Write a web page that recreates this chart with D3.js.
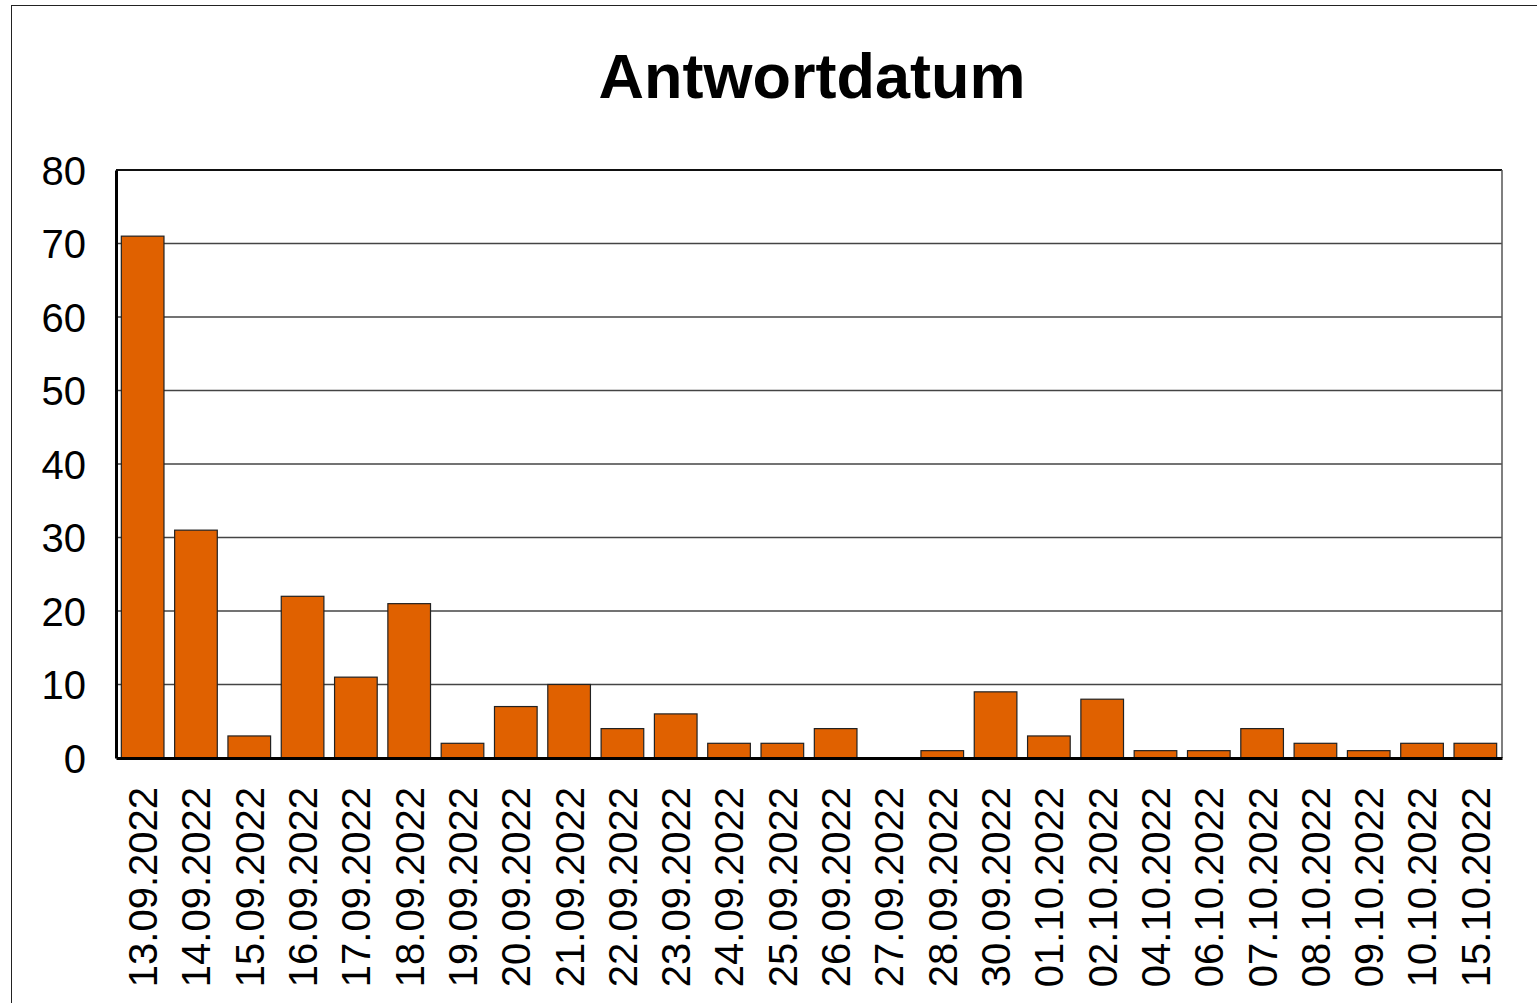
<!DOCTYPE html>
<html>
<head>
<meta charset="utf-8">
<script src="https://cdn.jsdelivr.net/npm/d3@7"></script>
<style>
  body { margin: 0; background: #fff; }
  svg text { font-family: "Liberation Sans", Arial, sans-serif; }
</style>
</head>
<body>
<script>
const dates = ["13.09.2022", "14.09.2022", "15.09.2022", "16.09.2022", "17.09.2022", "18.09.2022",
    "19.09.2022", "20.09.2022", "21.09.2022", "22.09.2022", "23.09.2022", "24.09.2022",
    "25.09.2022", "26.09.2022", "27.09.2022", "28.09.2022", "30.09.2022", "01.10.2022",
    "02.10.2022", "04.10.2022", "06.10.2022", "07.10.2022", "08.10.2022", "09.10.2022",
    "10.10.2022", "15.10.2022"];
const counts = [71, 31, 3, 22, 11, 21, 2, 7, 10, 4, 6, 2, 2, 4, 0, 1, 9, 3, 8, 1, 1, 4, 2, 1, 2, 2];
const yTicks = [0, 10, 20, 30, 40, 50, 60, 70, 80];

const width = 1537, height = 1003;
const plot = { left: 116, right: 1502, top: 170, bottom: 758 };

const svg = d3.select("body").append("svg")
    .attr("width", width)
    .attr("height", height);

// outer frame
svg.append("rect")
    .attr("x", 11.5).attr("y", 5.5)
    .attr("width", width + 10).attr("height", height + 10)
    .attr("fill", "none")
    .attr("stroke", "#222")
    .attr("stroke-width", 1);

svg.append("text")
    .attr("x", 812)
    .attr("y", 98)
    .attr("text-anchor", "middle")
    .attr("font-size", 63)
    .attr("font-weight", "bold")
    .text("Antwortdatum");

const x = d3.scaleBand()
    .domain(dates)
    .range([plot.left, plot.right])
    .paddingInner(0.2)
    .paddingOuter(0.1);

const y = d3.scaleLinear()
    .domain([0, 80])
    .range([plot.bottom, plot.top]);

// gridlines
svg.append("g")
    .selectAll("line")
    .data(yTicks.filter(d => d > 0))
    .join("line")
    .attr("x1", plot.left).attr("x2", plot.right)
    .attr("y1", d => y(d)).attr("y2", d => y(d))
    .attr("stroke", d => d === 80 ? "#111" : "#444")
    .attr("stroke-width", d => d === 80 ? 2 : 1.3);

// right border
svg.append("line")
    .attr("x1", plot.right).attr("x2", plot.right)
    .attr("y1", plot.top).attr("y2", plot.bottom)
    .attr("stroke", "#555").attr("stroke-width", 1.5);

// bars
svg.append("g")
    .selectAll("rect")
    .data(counts)
    .join("rect")
    .attr("x", (d, i) => x(dates[i]))
    .attr("width", x.bandwidth())
    .attr("y", d => y(d))
    .attr("height", d => y(0) - y(d))
    .attr("fill", "#E06100")
    .attr("stroke", "#222")
    .attr("stroke-width", 1.2);

// y axis
const yAxis = svg.append("g")
    .attr("transform", `translate(${plot.left},0)`)
    .call(d3.axisLeft(y).tickValues(yTicks).tickSize(0).tickPadding(30));
yAxis.select(".domain").attr("stroke", "#000").attr("stroke-width", 3);
yAxis.selectAll("text")
    .attr("font-size", 40)
    .attr("fill", "#000")
    .attr("dy", "0.36em");

// x axis
const xAxis = svg.append("g")
    .attr("transform", `translate(0,${plot.bottom})`)
    .call(d3.axisBottom(x).tickSize(0).tickPadding(0));
xAxis.select(".domain").attr("stroke", "#000").attr("stroke-width", 3);
xAxis.selectAll("text")
    .attr("font-size", 40)
    .attr("fill", "#000")
    .attr("text-anchor", "end")
    .attr("transform", "rotate(-90)")
    .attr("x", -29)
    .attr("y", 0)
    .attr("dy", "0.36em");
</script>
</body>
</html>
